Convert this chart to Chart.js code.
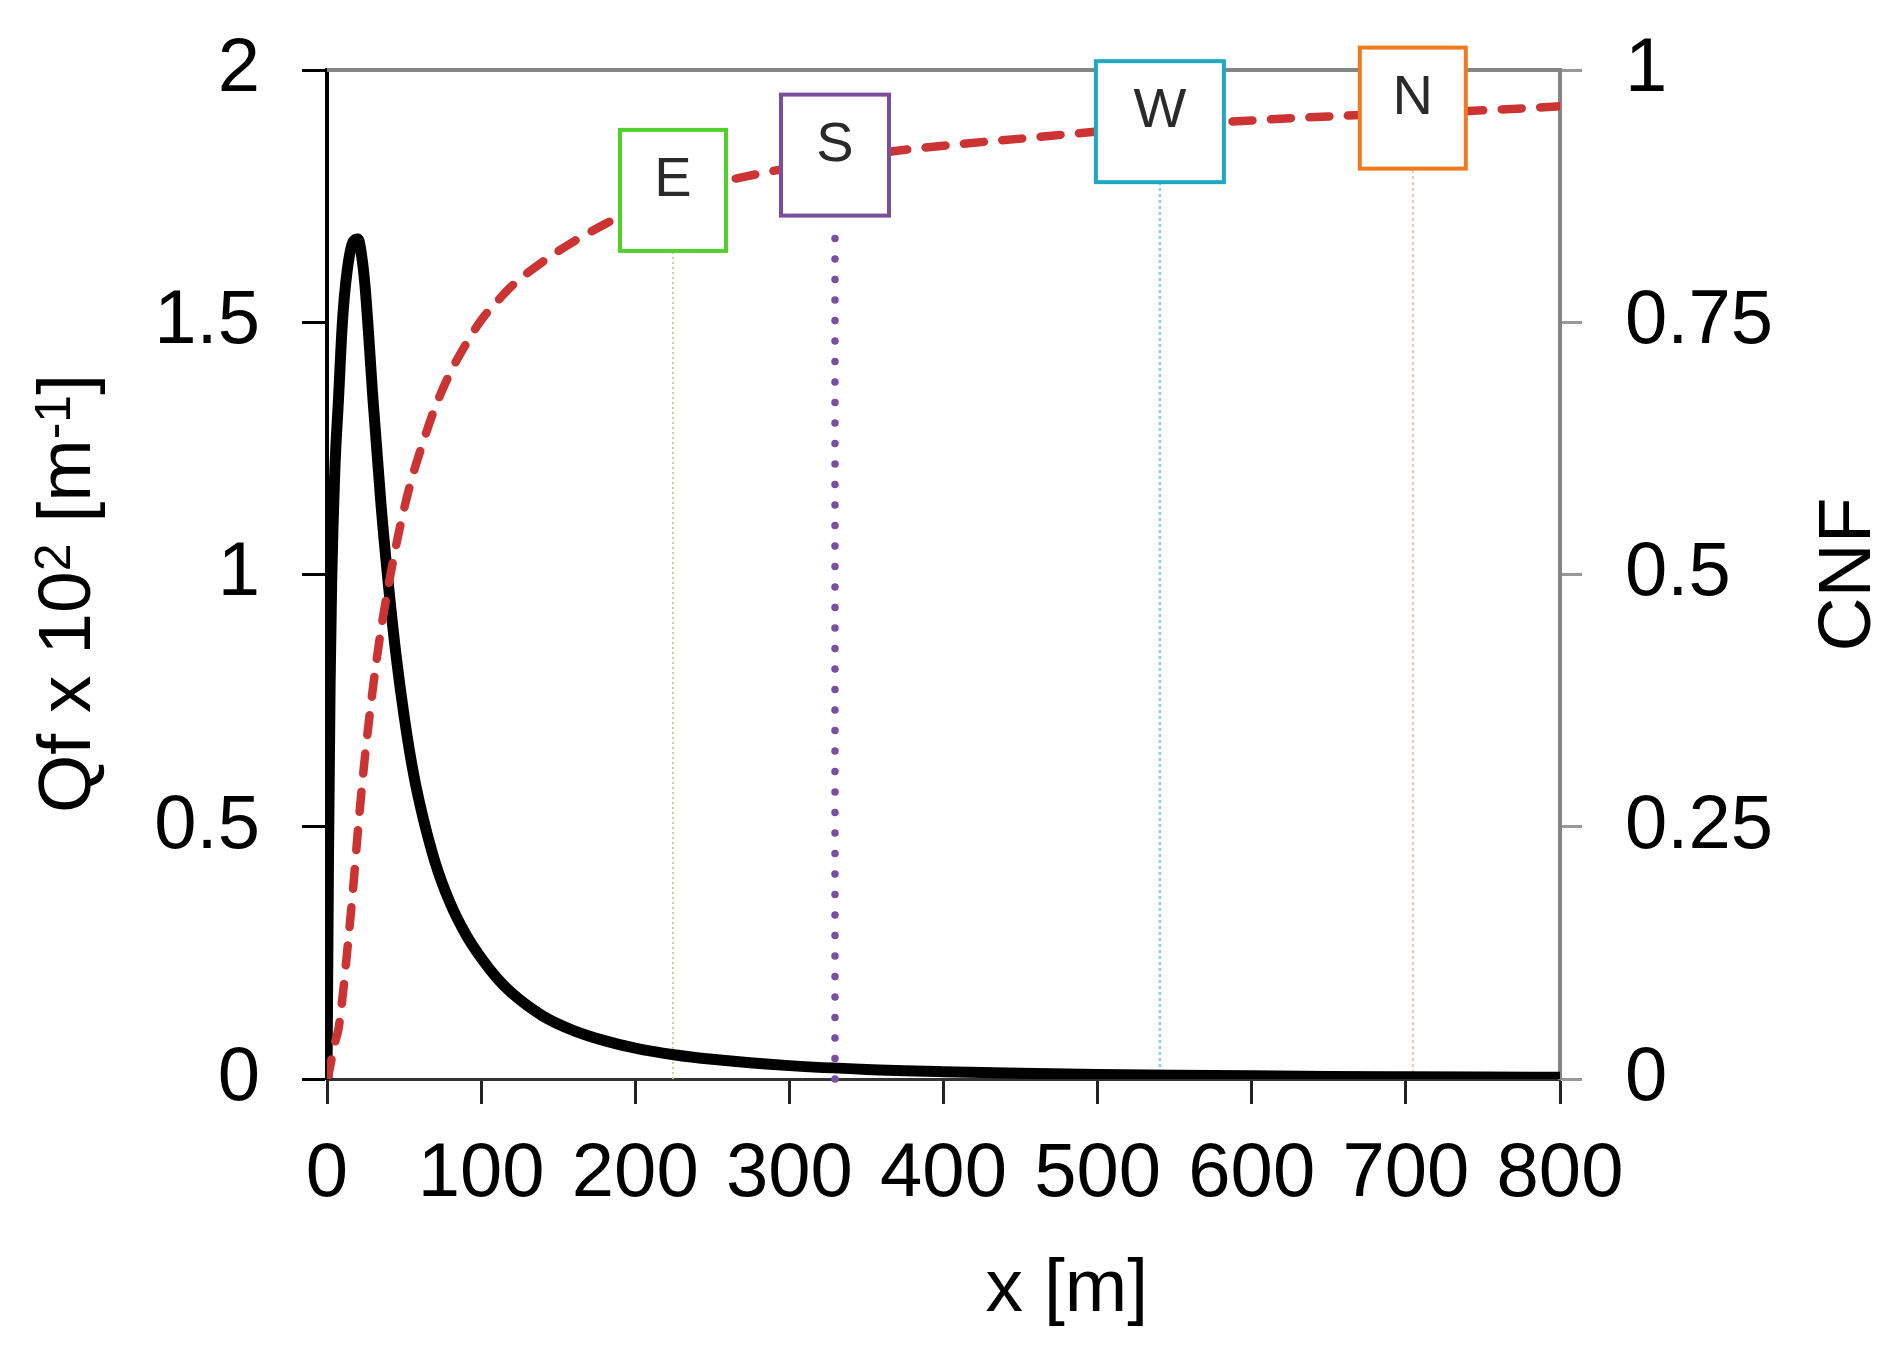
<!DOCTYPE html>
<html>
<head>
<meta charset="utf-8">
<title>Qf and CNF against distance</title>
<script src="https://cdn.jsdelivr.net/npm/chart.js@4.4.0/dist/chart.umd.min.js"></script>
<style>
  html, body { margin: 0; padding: 0; background: #fff; }
  #chart { display: block; }
</style>
</head>
<body>
<canvas id="chart" width="1902" height="1361"></canvas>
<script>
// distance x [m]
const distance = [0, 1, 2, 3, 5, 7.5, 10, 13, 17, 20, 23, 25, 30, 35, 40, 45, 50, 55, 60, 70, 80, 90,
    100, 110, 120, 140, 160, 180, 200, 225, 250, 300, 350, 400, 450, 500, 550, 600, 650, 700, 750, 800];
// Qf x 10^2 [m-1] (left axis)
const qf = [0, 0.45, 0.78, 0.98, 1.2, 1.35, 1.5, 1.6, 1.66, 1.665, 1.62, 1.56, 1.34, 1.14, 0.975, 0.835, 0.72, 0.624, 0.548, 0.431, 0.348, 0.287,
    0.24, 0.201, 0.17, 0.125, 0.096, 0.076, 0.061, 0.048, 0.039, 0.0265, 0.019, 0.0145, 0.0113, 0.009, 0.0074, 0.0062, 0.0052, 0.0045, 0.0039, 0.0034];
// CNF (right axis)
const cnf = [0, 0.005, 0.012, 0.02, 0.035, 0.05, 0.08, 0.125, 0.19, 0.245, 0.295, 0.325, 0.39, 0.445, 0.49, 0.53, 0.565, 0.595, 0.62, 0.665, 0.7, 0.728,
    0.752, 0.77, 0.786, 0.81, 0.83, 0.847, 0.862, 0.876, 0.887, 0.903, 0.916, 0.925, 0.932, 0.939, 0.945, 0.95, 0.954, 0.957, 0.96, 0.964];

// E / S / W / N positions
const markerLabels = ['E', 'S', 'W', 'N'];
const markerDistance = [224.5, 329.6, 540.4, 704.5];

// tick labels
const xTickValues = [0, 100, 200, 300, 400, 500, 600, 700, 800];
const qfTickValues = [0, 0.5, 1, 1.5, 2];
const cnfTickValues = [0, 0.25, 0.5, 0.75, 1];

const FONT = '"Liberation Sans", Arial, Helvetica, sans-serif';

const markerStyles = {
    E: { box: '#50d02a', line: '#bcd995', lineWidth: 2, dash: [2, 3], width: 106, onTop: false },
    S: { box: '#7a4e9e', line: '#7a4ea3', lineWidth: 7.5, dash: [0, 20.5], width: 108, onTop: true },
    W: { box: '#1ea8c2', line: '#88d0df', lineWidth: 2.5, dash: [3, 3], width: 128, onTop: false },
    N: { box: '#f27a1e', line: '#f8c4a4', lineWidth: 2, dash: [3, 3], width: 106, onTop: false }
};
const BOX_H = 121;

// cnf value at a given distance (for placing the boxes on the curve)
function cnfAt(x) {
    for (let i = 1; i < distance.length; i++) {
        if (x <= distance[i]) {
            let t = (x - distance[i - 1]) / (distance[i] - distance[i - 1]);
            return cnf[i - 1] + t * (cnf[i] - cnf[i - 1]);
        }
    }
    return cnf[cnf.length - 1];
}

function boxCenterY(chart, x) {
    return chart.scales.y1.getPixelForValue(cnfAt(x)) - 5;
}

function drawGuides(chart, onTop) {
    let ctx = chart.ctx;
    let xs = chart.scales.x;
    let y0 = chart.scales.y.getPixelForValue(0);
    markerLabels.forEach(function (lab, i) {
        let st = markerStyles[lab];
        if (st.onTop !== onTop) return;
        let px = xs.getPixelForValue(markerDistance[i]);
        let bottom = boxCenterY(chart, markerDistance[i]) + BOX_H / 2;
        ctx.save();
        ctx.strokeStyle = st.line;
        ctx.lineWidth = st.lineWidth;
        ctx.setLineDash(st.dash);
        ctx.lineCap = onTop ? 'round' : 'butt';
        ctx.beginPath();
        ctx.moveTo(px, y0);
        ctx.lineTo(px, bottom + (onTop ? 8 : 0));
        ctx.stroke();
        ctx.restore();
    });
}

const decorPlugin = {
    id: 'decor',
    beforeDatasetsDraw(chart) {
        let ctx = chart.ctx, a = chart.chartArea;
        // top frame line
        ctx.save();
        ctx.strokeStyle = '#858585';
        ctx.lineWidth = 4;
        ctx.beginPath();
        ctx.moveTo(a.left, a.top);
        ctx.lineTo(a.right, a.top);
        ctx.stroke();
        ctx.restore();
        drawGuides(chart, false);
    },
    afterDatasetsDraw(chart) {
        let ctx = chart.ctx;
        drawGuides(chart, true);
        markerLabels.forEach(function (lab, i) {
            let st = markerStyles[lab];
            let cx = chart.scales.x.getPixelForValue(markerDistance[i]);
            let cy = boxCenterY(chart, markerDistance[i]);
            ctx.save();
            ctx.fillStyle = '#fff';
            ctx.strokeStyle = st.box;
            ctx.lineWidth = 4;
            ctx.fillRect(cx - st.width / 2, cy - BOX_H / 2, st.width, BOX_H);
            ctx.strokeRect(cx - st.width / 2, cy - BOX_H / 2, st.width, BOX_H);
            ctx.fillStyle = '#2a2a2a';
            ctx.font = '56px ' + FONT;
            ctx.textAlign = 'center';
            ctx.textBaseline = 'middle';
            ctx.fillText(lab, cx, cy - 10);
            ctx.restore();
        });
    },
    afterDraw(chart) {
        let ctx = chart.ctx, a = chart.chartArea;
        ctx.save();
        ctx.fillStyle = '#000';
        ctx.textBaseline = 'alphabetic';

        // x axis title
        ctx.font = '75px ' + FONT;
        ctx.textAlign = 'center';
        ctx.fillText('x [m]', a.left + a.width * 0.6, a.bottom + 232);

        // right axis title
        ctx.save();
        ctx.translate(a.right + 310, (a.top + a.bottom) / 2);
        ctx.rotate(-Math.PI / 2);
        ctx.fillText('CNF', 0, 0);
        ctx.restore();

        // left axis title with superscripts
        let parts = [
            { t: 'Qf x 10', size: 75, dy: 0 },
            { t: '2', size: 50, dy: -20 },
            { t: ' [m', size: 75, dy: 0 },
            { t: '-1', size: 50, dy: -20 },
            { t: ']', size: 75, dy: 0 }
        ];
        let total = 0;
        parts.forEach(function (p) {
            ctx.font = p.size + 'px ' + FONT;
            p.w = ctx.measureText(p.t).width;
            total += p.w;
        });
        ctx.save();
        ctx.translate(a.left - 237, (a.top + a.bottom) / 2 + 19);
        ctx.rotate(-Math.PI / 2);
        ctx.textAlign = 'left';
        let pos = -total / 2;
        parts.forEach(function (p) {
            ctx.font = p.size + 'px ' + FONT;
            ctx.fillText(p.t, pos, p.dy);
            pos += p.w;
        });
        ctx.restore();
        ctx.restore();
    }
};

function noVerticalPadding(scale) {
    scale.paddingTop = 0;
    scale.paddingBottom = 0;
}

let ctxChart = document.getElementById('chart');
let chartConfig = {
    type: 'line',
    data: {
        datasets: [{
            label: 'Qf',
            data: distance.map((d, i) => ({ x: d, y: qf[i] })),
            yAxisID: 'y',
            borderColor: '#000',
            borderWidth: 11,
            pointRadius: 0,
            cubicInterpolationMode: 'monotone',
            fill: false,
            order: 2
        }, {
            label: 'CNF',
            data: distance.map((d, i) => ({ x: d, y: cnf[i] })),
            yAxisID: 'y1',
            borderColor: '#cc3333',
            borderWidth: 8.5,
            borderDash: [20, 18.5],
            borderCapStyle: 'round',
            pointRadius: 0,
            cubicInterpolationMode: 'monotone',
            fill: false,
            order: 1
        }]
    },
    options: {
        responsive: false,
        animation: false,
        layout: { padding: { top: 70, left: 0, right: 0, bottom: 0 } },
        plugins: {
            legend: { display: false },
            tooltip: { enabled: false }
        },
        scales: {
            x: {
                type: 'linear',
                min: 0,
                max: 800,
                afterBuildTicks: (scale) => { scale.ticks = xTickValues.map(v => ({ value: v })); },
                afterFit: (scale) => { scale.height = 282; },
                grid: { drawOnChartArea: false, drawTicks: true, tickLength: 25, tickColor: '#222', tickWidth: 3 },
                border: { display: true, color: '#333', width: 3 },
                ticks: { color: '#000', font: { family: FONT, size: 76 }, padding: 25, maxRotation: 0, autoSkip: false,
                    callback: (v) => String(v) }
            },
            y: {
                position: 'left',
                min: 0,
                max: 2,
                afterBuildTicks: (scale) => { scale.ticks = qfTickValues.map(v => ({ value: v })); },
                afterFit: (scale) => { scale.width = 327; noVerticalPadding(scale); },
                grid: { drawOnChartArea: false, drawTicks: true, tickLength: 25, tickColor: '#000', tickWidth: 3 },
                border: { display: true, color: '#000', width: 4 },
                ticks: { color: '#000', font: { family: FONT, size: 76 }, padding: 42, callback: (v) => String(v) }
            },
            y1: {
                position: 'right',
                min: 0,
                max: 1,
                afterBuildTicks: (scale) => { scale.ticks = cnfTickValues.map(v => ({ value: v })); },
                afterFit: (scale) => { scale.width = 342; noVerticalPadding(scale); },
                grid: { drawOnChartArea: false, drawTicks: true, tickLength: 22, tickColor: '#999', tickWidth: 3 },
                border: { display: true, color: '#858585', width: 4 },
                ticks: { color: '#000', font: { family: FONT, size: 76 }, padding: 43, callback: (v) => String(v) }
            }
        }
    },
    plugins: [decorPlugin]
};
let chartQfCnf = new Chart(ctxChart, chartConfig);
</script>
</body>
</html>
